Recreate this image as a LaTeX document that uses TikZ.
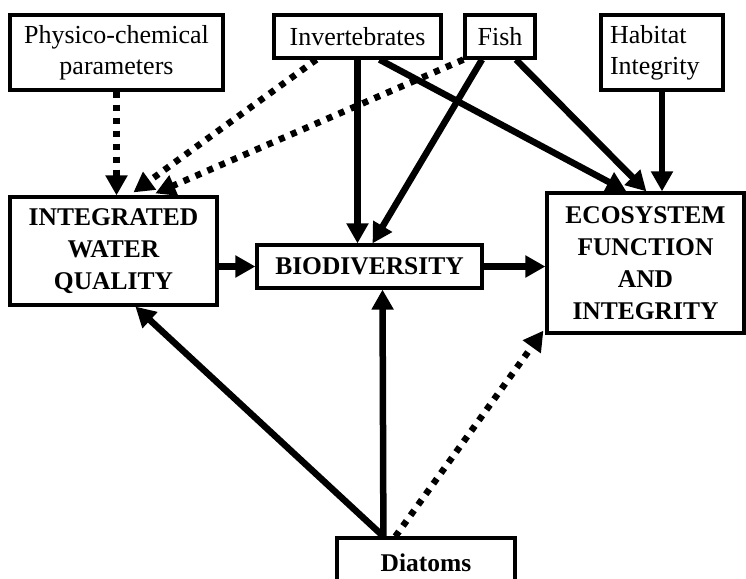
\documentclass[tikz,border=0pt]{standalone}
\usepackage{fontspec}
\setmainfont{Liberation Serif}
\usetikzlibrary{arrows.meta,calc}
\begin{document}
\begin{tikzpicture}[x=1pt,y=-1pt,
  box/.style={draw, line width=3.2pt, inner sep=0pt, align=center, fill=white,
    font=\fontsize{26}{31}\selectfont},
  bbox/.style={box, font=\fontsize{25.5}{32}\selectfont\bfseries},
  arr/.style={line width=6.5pt, -{Triangle[length=20pt,width=21pt]}},
  dots/.style={line width=6.5pt, dash pattern=on 6pt off 7pt, -{Triangle[length=20pt,width=21pt]}}]
\useasboundingbox (0,0) rectangle (746,578);
\fill[white] (0,0) rectangle (746,578);
% nodes
\node[box, minimum width=213, minimum height=75] (phys) at (116.5,52.5) {Physico-chemical\\parameters};
\node[box, minimum width=167, minimum height=43] (inv) at (357.5,36.5) {Invertebrates};
\node[box, minimum width=70, minimum height=43] (fish) at (500,36.5) {Fish};
\node[box, minimum width=122, minimum height=75, align=left, text width=104] (hab) at (662,52.5) {Habitat\\Integrity};
\node[bbox, minimum width=207, minimum height=108] (iwq) at (113.5,251) {INTEGRATED\\WATER\\QUALITY};
\node[bbox, minimum width=225, minimum height=43] (bio) at (369.5,266.5) {BIODIVERSITY};
\node[bbox, minimum width=197, minimum height=140] (eco) at (645.5,263) {ECOSYSTEM\\FUNCTION\\AND\\INTEGRITY};
\node[bbox, minimum width=178, minimum height=50] (dia) at (426,563) {Diatoms};
\coordinate (dtop) at ($(dia.north west)+(48,0)$);
% connectors
\draw[dots] (phys.south) -- (phys.south |- iwq.north);
\draw[dots] ($(inv.south west)+(44,0)$) -- ($(iwq.north west)+(125,-3)$);
\draw[dots] (fish.south west) -- ($(iwq.north west)+(147,-2)$);
\draw[arr] (inv.south) -- (inv.south |- bio.north);
\draw[arr] ($(inv.south)+(22,0)$) -- ($(eco.north west)+(81,0)$);
\draw[arr] ($(fish.south)+(-18,0)$) -- ($(bio.north)+(3,0)$);
\draw[arr] ($(fish.south)+(16,0)$) -- ($(eco.north west)+(101,0)$);
\draw[arr] (hab.south) -- (hab.south |- eco.north);
\draw[arr] (bio.west -| iwq.east) -- (bio.west);
\draw[arr] (bio.east) -- (bio.east -| eco.west);
\draw[arr] (dtop) -- ($(iwq.south west)+(127,0)$);
\draw[arr] (dtop) -- ($(bio.south)+(13,0)$);
\draw[dots] ($(dia.north west)+(60,0)$) -- ($(eco.south west)+(-2,-4)$);
\end{tikzpicture}
\end{document}
